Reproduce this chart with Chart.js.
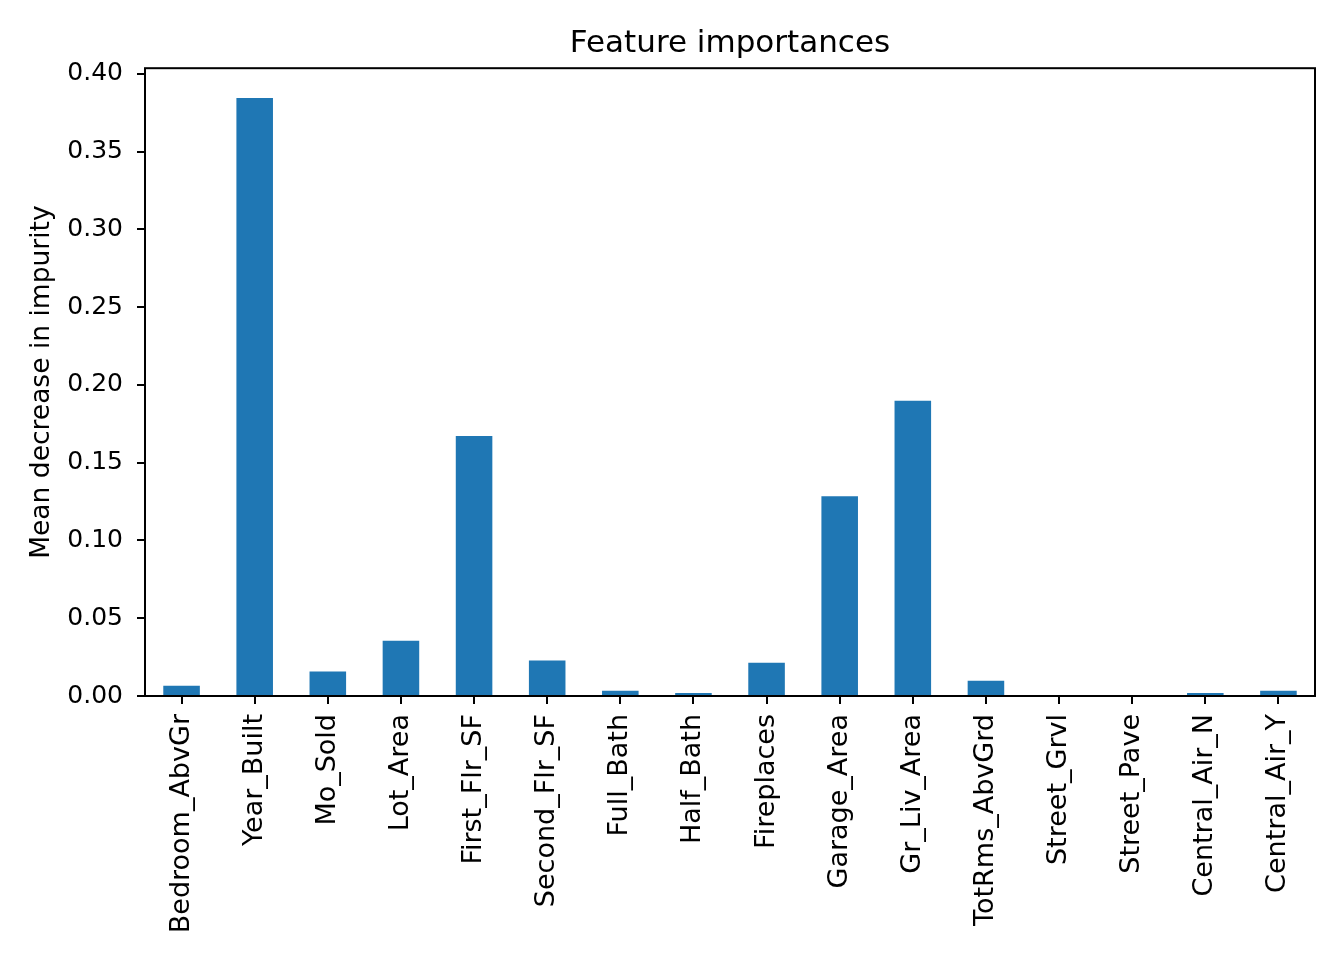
<!DOCTYPE html>
<html>
<head>
<meta charset="utf-8">
<script src="https://cdn.jsdelivr.net/npm/chart.js@4"></script>
<style>
  html, body { margin: 0; padding: 0; background: #fff; }
  #wrap { width: 1344px; height: 960px; }
</style>
</head>
<body>
<div id="wrap"><canvas id="myChart"></canvas></div>
<script>
var features = ["Bedroom_AbvGr", "Year_Built", "Mo_Sold", "Lot_Area", "First_Flr_SF", "Second_Flr_SF",
  "Full_Bath", "Half_Bath", "Fireplaces", "Garage_Area", "Gr_Liv_Area", "TotRms_AbvGrd",
  "Street_Grvl", "Street_Pave", "Central_Air_N", "Central_Air_Y"];
var importances = [0.0066, 0.3845, 0.0157, 0.0356, 0.1672, 0.0228,
  0.0033, 0.0020, 0.0214, 0.1285, 0.1898, 0.0098,
  0.0001, 0.0001, 0.0020, 0.0033];
var yTicks = [0, 0.05, 0.10, 0.15, 0.20, 0.25, 0.30, 0.35, 0.40];

var fontFamily = "'DejaVu Sans', sans-serif";

// box around the plot area, like matplotlib spines
var frame = {
  id: "frame",
  afterDraw: function(chart) {
    var a = chart.chartArea;
    var ctx = chart.ctx;
    ctx.save();
    ctx.strokeStyle = "#000";
    ctx.lineWidth = 2;
    ctx.strokeRect(a.left, a.top, a.right - a.left, a.bottom - a.top);
    ctx.restore();
  }
};

var ctx = document.getElementById("myChart").getContext("2d");
var chart = new Chart(ctx, {
  type: "bar",
  data: {
    labels: features,
    datasets: [{
      label: "importance",
      data: importances,
      backgroundColor: "#1f77b4",
      barPercentage: 0.5,
      categoryPercentage: 1.0
    }]
  },
  options: {
    responsive: true,
    maintainAspectRatio: false,
    animation: false,
    layout: { padding: { right: 29, bottom: 0, left: 0, top: 0 } },
    plugins: {
      legend: { display: false },
      tooltip: { enabled: false },
      title: {
        display: true,
        fullSize: false,
        text: "Feature importances",
        color: "#000",
        font: { family: fontFamily, size: 31, weight: "normal", lineHeight: 1.2 },
        padding: { top: 25, bottom: 6 }
      }
    },
    scales: {
      x: {
        offset: true,
        grid: { display: true, drawOnChartArea: false, color: "#000", lineWidth: 2, tickLength: 8, offset: false },
        border: { display: false },
        ticks: {
          color: "#000",
          font: { family: fontFamily, size: 27 },
          maxRotation: 90,
          minRotation: 90,
          autoSkip: false,
          padding: 10
        },
        afterFit: function(scale) { scale.height = 264; }
      },
      y: {
        min: 0,
        max: 0.4037,
        afterBuildTicks: function(scale) {
          scale.ticks = yTicks.map(function(v) { return { value: v }; });
        },
        grid: { display: true, drawOnChartArea: false, color: "#000", lineWidth: 2, tickLength: 8 },
        border: { display: false },
        ticks: {
          color: "#000",
          font: { family: fontFamily, size: 25 },
          padding: 14,
          callback: function(v) { return v.toFixed(2); }
        },
        title: {
          display: true,
          text: "Mean decrease in impurity",
          color: "#000",
          font: { family: fontFamily, size: 26.5 },
          padding: { top: 26, bottom: 0 }
        },
        afterFit: function(scale) { scale.width = 145; }
      }
    }
  },
  plugins: [frame]
});
</script>
</body>
</html>
